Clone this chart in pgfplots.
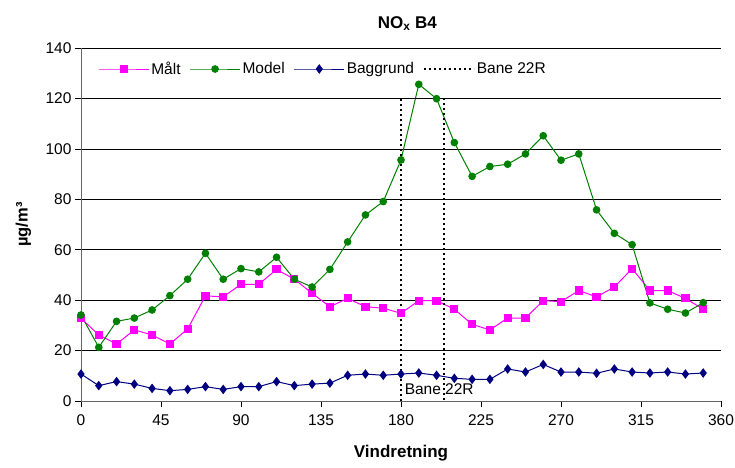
\documentclass[border=0pt]{standalone}
\usepackage{fontspec}
\setmainfont{Liberation Sans}
\usepackage{pgfplots}
\pgfplotsset{compat=1.18}
\definecolor{maltc}{RGB}{255,0,255}
\definecolor{modelc}{RGB}{0,128,0}
\definecolor{bagc}{RGB}{0,0,128}
\begin{document}
\begin{tikzpicture}
\path[use as bounding box] (-81pt,-66pt) rectangle (654pt,401pt);
\begin{axis}[
  at={(0,0)}, anchor=south west,
  scale only axis, width=640pt, height=353pt,
  xmin=0, xmax=360, ymin=0, ymax=140,
  xtick={0,45,...,360}, ytick={0,20,...,140},
  axis x line*=bottom, axis y line*=left,
  axis line style={-, draw=black!60, line width=0.8pt},
  tick align=outside, major tick length=6pt,
  tick style={black, line width=0.7pt},
  ymajorgrids, grid style={black, line width=0.6pt},
  /pgf/number format/assume math mode=true,
  ticklabel style={font=\fontsize{15.5}{18}\selectfont},
  xticklabel style={yshift=-4pt},
  title={\textbf{NO\textsubscript{x} B4}},
  title style={font=\fontsize{17}{20}\selectfont, at={(axis description cs:0.51,1.052)}, anchor=center},
  xlabel={\textbf{Vindretning}},
  xlabel style={font=\fontsize{17}{20}\selectfont, at={(axis description cs:0.5,-0.148)}, anchor=center},
  ylabel={\textbf{µg/m³}},
  ylabel style={font=\fontsize{16.5}{19}\selectfont, at={(axis description cs:-0.09,0.5)}, anchor=center, rotate=0},
  legend style={draw=none, fill=none, at={(axis description cs:0.022,0.9405)}, anchor=west,
    font=\fontsize{15.5}{18}\selectfont,
    /tikz/every even column/.append style={column sep=7pt}},
  legend columns=-1,
  legend image code/.code={\draw[mark repeat=2,mark phase=2,#1] plot coordinates {(0pt,0pt) (25pt,0pt) (50pt,0pt)};},
]
\addplot[color=maltc, line width=1pt, mark=square*, mark size=3.6pt, mark options={solid}] coordinates {
(0,32.8) (10,26.2) (20,22.6) (30,28.2) (40,26.2) (50,22.6) (60,28.6) (70,41.7) (80,41.3) (90,46.3)
(100,46.3) (110,52.2) (120,48.3) (130,42.7) (140,37.4) (150,40.7) (160,37.4) (170,36.8) (180,34.8) (190,39.8)
(200,39.8) (210,36.4) (220,30.4) (230,28.2) (240,32.9) (250,32.9) (260,39.8) (270,39.4) (280,43.8) (290,41.3)
(300,45.2) (310,52.5) (320,43.8) (330,43.8) (340,40.7) (350,36.4)};
\addlegendentry{Målt}
\addplot[color=modelc, line width=1pt, mark=*, mark size=3.3pt] coordinates {
(0,34.1) (10,21.3) (20,31.6) (30,32.9) (40,36.1) (50,41.8) (60,48.3) (70,58.6) (80,48.3) (90,52.5)
(100,51.2) (110,57.0) (120,48.3) (130,45.2) (140,52.2) (150,63.1) (160,73.8) (170,79.1) (180,95.6) (190,125.6)
(200,119.9) (210,102.5) (220,89.1) (230,93.0) (240,93.9) (250,98.0) (260,105.2) (270,95.5) (280,98.0) (290,75.8)
(300,66.5) (310,62.0) (320,38.9) (330,36.4) (340,34.9) (350,39.0)};
\addlegendentry{Model}
\addplot[color=bagc, line width=1pt, mark=diamond*, mark size=4pt] coordinates {
(0,10.7) (10,6.1) (20,7.7) (30,6.7) (40,5.0) (50,4.1) (60,4.6) (70,5.7) (80,4.6) (90,5.7)
(100,5.7) (110,7.7) (120,6.1) (130,6.7) (140,7.1) (150,10.2) (160,10.7) (170,10.2) (180,10.7) (190,11.1)
(200,10.2) (210,9.0) (220,8.6) (230,8.6) (240,12.7) (250,11.5) (260,14.5) (270,11.5) (280,11.5) (290,11.0)
(300,12.7) (310,11.5) (320,11.1) (330,11.5) (340,10.7) (350,11.1)};
\addlegendentry{Baggrund}
\addplot[color=black, line width=1.8pt, dash pattern=on 2.2pt off 2.8pt, mark=none] coordinates {
(180,0) (180,120) (204,120) (204,0)};
\addlegendentry{Bane 22R}
\node[anchor=west, font=\fontsize{15.5}{18}\selectfont, inner sep=0pt] at (axis cs:182,4.8) {Bane 22R};
\end{axis}
\end{tikzpicture}
\end{document}
